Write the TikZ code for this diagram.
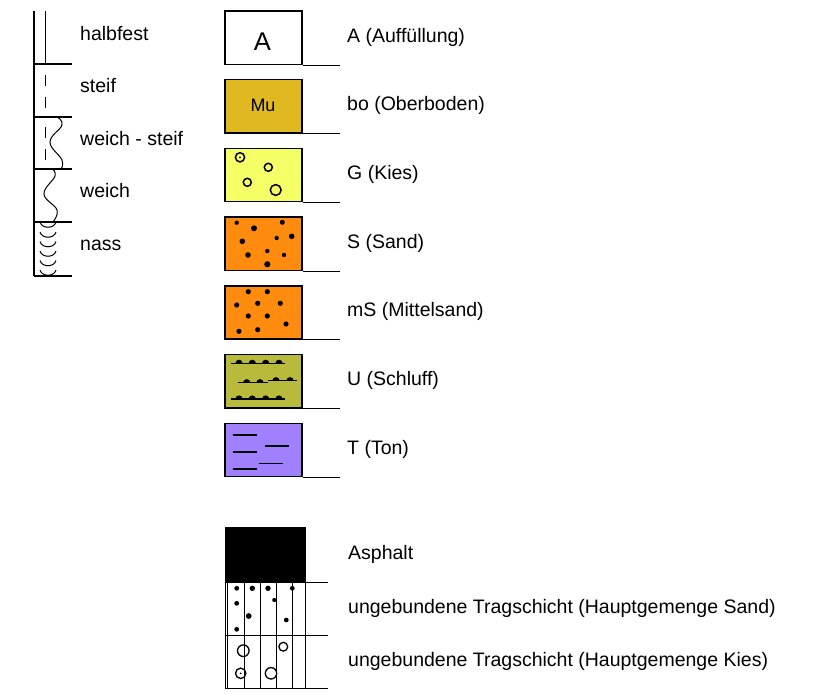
\documentclass[tikz,border=0pt]{standalone}
\usepackage{fontspec}
\setmainfont{Liberation Sans}
\definecolor{mucol}{RGB}{224,184,32}
\definecolor{gcol}{RGB}{245,255,102}
\definecolor{scol}{RGB}{255,140,15}
\definecolor{ucol}{RGB}{184,186,60}
\definecolor{tcol}{RGB}{160,128,255}
\begin{document}
\begin{tikzpicture}[x=1pt,y=-1pt,
  soilbox/.style={draw=black, line width=1.4pt, rectangle, minimum width=77pt, minimum height=53.3pt, inner sep=0pt},
  lbl/.style={anchor=base west, inner sep=0pt, font=\fontsize{19.5}{23}\selectfont},
  thin/.style={line width=1pt},
  rowline/.style={line width=1.2pt}]
\useasboundingbox (0,0) rectangle (834,693);
\fill[white] (0,0) rectangle (834,693);

% ---------- left column (consistency) ----------
\draw[line width=2pt] (34,11) -- (34,276);
\draw[thin] (45,11) -- (45,64);
\foreach \yy in {64,117,169,222,276} \draw[rowline] (34,\yy) -- (72,\yy);
\draw[thin] (45,75) -- (45,86) (45,97) -- (45,108);
\draw[thin] (45,127) -- (45,138) (45,149) -- (45,160);
\draw[thin] plot[smooth, tension=0.7] coordinates {(57,117) (62,125) (50,142) (62,160) (61,169)};
\draw[thin] plot[smooth, tension=0.7] coordinates {(52,169) (55,176) (44,194) (57,210) (53,222)};
\foreach \t in {222,232,241.5,251,260.5,270}
  \draw[thin] (40,\t) .. controls (42,\t+7) and (54,\t+7) .. (56,\t);
\node[lbl] (lhalb) at (80,40.5) {halbfest};
\node[lbl] (lsteif) at (80,92.5) {steif};
\node[lbl] (lws) at (80,145.5) {weich - steif};
\node[lbl] (lweich) at (80,197.5) {weich};
\node[lbl] (lnass) at (80,250.5) {nass};

% ---------- soil boxes ----------
\node[soilbox, fill=white] (bA) at (263.5,37.65) {};
\node[anchor=base, inner sep=0pt, font=\fontsize{25.6}{28}\selectfont] (tA) at (262.5,50) {A};
\node[soilbox, fill=mucol] (bMu) at (263.5,106.35) {};
\node[anchor=base, inner sep=0pt, font=\fontsize{18}{20}\selectfont] (tMu) at (263,111.5) {Mu};
\node[soilbox, fill=gcol] (bG) at (263.5,175.05) {};
\node[soilbox, fill=scol] (bS) at (263.5,243.75) {};
\node[soilbox, fill=scol] (bmS) at (263.5,312.45) {};
\node[soilbox, fill=ucol] (bU) at (263.5,381.15) {};
\node[soilbox, fill=tcol] (bT) at (263.5,449.85) {};
\foreach \b in {bA,bMu,bG,bS,bmS,bU,bT}
  \draw[thin] (\b.south east) -- ++(37,0);

\node[lbl] (lA) at (347,42) {A (Auffüllung)};
\node[lbl] (lbo) at (347,110.7) {bo (Oberboden)};
\node[lbl] (lG) at (347,179.4) {G (Kies)};
\node[lbl] (lS) at (347,248.1) {S (Sand)};
\node[lbl] (lmS) at (347,316.8) {mS (Mittelsand)};
\node[lbl] (lU) at (347,385.5) {U (Schluff)};
\node[lbl] (lT) at (347,454.2) {T (Ton)};

% G circles
\draw[line width=1.5pt] (240,157.3) circle (4.6) (268.3,167.3) circle (4) (247.3,182.3) circle (4) (275.7,190) circle (5.4);
\fill (240,157.3) circle (1);
% S dots
\fill (236.7,222.7) circle (2.2) (254,228.3) circle (3) (282.3,222.3) circle (2.5)
      (242.3,241.3) circle (2.8) (276.7,238) circle (2.2) (291.7,236.3) circle (2.8)
      (248,255) circle (2.8) (267.3,251) circle (2.2) (284,255) circle (2.2) (267.3,264.3) circle (3.1);
% mS dots
\foreach \p in {(248.3,291.7),(267.3,291.7),(236.7,305),(257.7,303.3),(280.3,303.3),(248.3,316),(267.3,316),(286,324),(239,331.3),(257.7,329.7)}
  \fill \p circle (2.6);
% U lines with half dots
\draw[line width=1.2pt] (230.7,363.3) -- (285,363.3) (238.3,382.7) -- (268.3,382.7) (268.3,380.7) -- (297.3,380.7) (230.7,399) -- (285,399);
\foreach \xx in {239,252.3,265.7,279} {
  \fill (\xx-3.6,363.3) arc[start angle=180, end angle=360, radius=3.6] -- cycle;
  \fill (\xx-3.6,399) arc[start angle=180, end angle=360, radius=3.6] -- cycle;
}
\foreach \xx in {246.7,260} \fill (\xx-3.6,382.7) arc[start angle=180, end angle=360, radius=3.6] -- cycle;
\foreach \xx in {276,290} \fill (\xx-3.6,380.7) arc[start angle=180, end angle=360, radius=3.6] -- cycle;
% T lines
\draw[line width=1.5pt] (232.7,435) -- (256.7,435) (265,446) -- (289,446) (232.7,452) -- (256.7,452)
  (259.3,463.3) -- (283.3,463.3) (232.7,469) -- (256.7,469);

% ---------- road layers ----------
\node[draw=black, fill=black, rectangle, minimum width=80pt, minimum height=54.6pt, inner sep=0pt] (asph) at (265,554.6) {};
\draw[thin] (225,582) rectangle (305,688);
\foreach \xx in {227,244,260,276,292} \draw[thin] (\xx,582) -- (\xx,688);
\draw[thin] (305,582) -- (328,582);
\draw[thin] (225,635) -- (328,635);
\draw[thin] (225,688) -- (328,688);
\fill (236.7,588.3) circle (2.4) (252.3,588.3) circle (2.7) (268,588.3) circle (2.7) (292.3,588.3) circle (2.4)
      (236.7,603.3) circle (2.4) (274.3,600) circle (2.1) (248.7,616) circle (2.9) (286.3,620) circle (2.4) (236.7,629.3) circle (2.4);
\draw[line width=1.3pt] (243.3,650.7) circle (5.8) (283.3,646.7) circle (4.4) (240.7,673.3) circle (5.2) (271,673.3) circle (5.7);
\fill (240.7,673.3) circle (1);
\node[lbl] (lasph) at (348,559.5) {Asphalt};
\node[lbl] (lsand) at (348,613.3) {ungebundene Tragschicht (Hauptgemenge Sand)};
\node[lbl] (lkies) at (348,666.7) {ungebundene Tragschicht (Hauptgemenge Kies)};
\end{tikzpicture}
\end{document}
